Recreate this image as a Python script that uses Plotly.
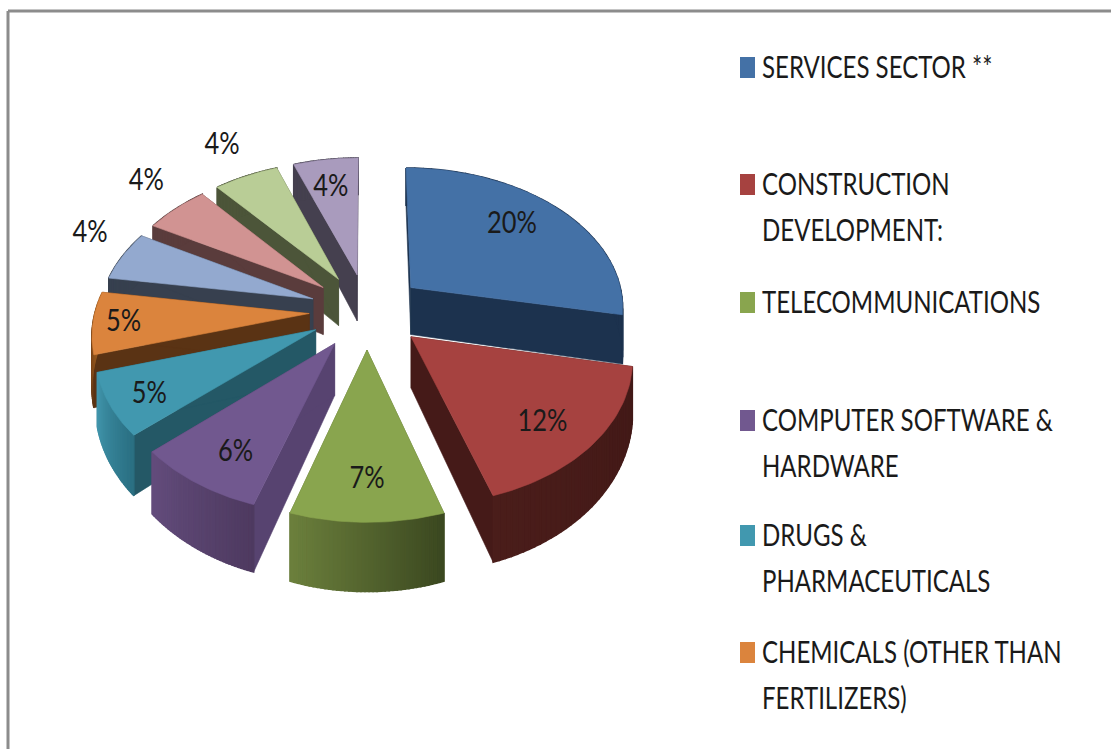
import numpy as np
import plotly.graph_objects as go

# ---- data
sectors = ["SERVICES SECTOR **", "CONSTRUCTION DEVELOPMENT:", "TELECOMMUNICATIONS",
           "COMPUTER SOFTWARE & HARDWARE", "DRUGS & PHARMACEUTICALS",
           "CHEMICALS (OTHER THAN FERTILIZERS)", "SECTOR 7", "SECTOR 8", "SECTOR 9", "SECTOR 10"]
shares = [20, 12, 7, 6, 5, 5, 4, 4, 4, 4]
share_labels = ["20%", "12%", "7%", "6%", "5%", "5%", "4%", "4%", "4%", "4%"]

# ---- styles
top_colors = ["#4471a6", "#a64240", "#89a54e", "#71588f", "#4198af", "#db843d",
              "#93a9cf", "#d19392", "#b9cd96", "#a99bbd"]
side_colors = ["#1c324e", "#451a18", "#5a6e33", "#574370", "#245866", "#5a3314",
               "#37404f", "#5a3c3c", "#4c5539", "#45404f"]
outer_left = ["#1c324e", "#4a1d1a", "#6b7f3c", "#634c7c", "#4195ab", "#a5601f",
              "#37404f", "#5a3c3c", "#4c5539", "#45404f"]
outer_right = ["#1c324e", "#421917", "#3b4820", "#4e3a60", "#2a6f82", "#5a3314",
               "#37404f", "#5a3c3c", "#4c5539", "#45404f"]
label_radius = [0.72, 0.78, 0.78, 0.80, 0.86, 0.85, 1.18, 1.22, 1.28, 0.72]
label_nudge_x = [-7, -8, 0, 9, 9, -2, 0, 0, -1, -3]
label_nudge_y = [-4, 5, 0, 1, 1, 2, -14, -11, -4, -1]

CX, CY, RX, RY, PERSP, EXPLODE, DEPTH = 367, 311, 214, 140, 0.125, 0.27, 49
N = len(shares)
total = sum(shares)
edges = np.concatenate([[0], np.cumsum(shares)]) / total * 2 * np.pi


def project(p, q, drop=0.0):
    s = 1 / (1 - PERSP * q)
    return CX + RX * p * s, CY + RY * q * s + drop * DEPTH * s * s


def mix(c1, c2, t):
    a = [int(c1[i:i + 2], 16) for i in (1, 3, 5)]
    b = [int(c2[i:i + 2], 16) for i in (1, 3, 5)]
    return "#%02x%02x%02x" % tuple(round(x + (y - x) * t) for x, y in zip(a, b))


def poly(fig, xs, ys, color, width=0.6):
    fig.add_trace(go.Scatter(x=list(xs), y=list(ys), mode="lines", fill="toself", fillcolor=color,
                             line=dict(color=color, width=width), hoverinfo="skip", showlegend=False))


fig = go.Figure()
mids = (edges[:-1] + edges[1:]) / 2
order = sorted(range(N), key=lambda i: -np.cos(mids[i]))  # far slices first
for i in order:
    a0, a1, mid = edges[i], edges[i + 1], mids[i]
    ax, aq = EXPLODE * np.sin(mid), -EXPLODE * np.cos(mid)
    th = np.linspace(a0, a1, 40)
    pp = ax + np.sin(th)
    qq = aq - np.cos(th)
    # radial side faces
    for j in (0, -1):
        xa0, ya0 = project(ax, aq)
        xa1, ya1 = project(ax, aq, 1)
        xb0, yb0 = project(pp[j], qq[j])
        xb1, yb1 = project(pp[j], qq[j], 1)
        poly(fig, [xa0, xb0, xb1, xa1, xa0], [ya0, yb0, yb1, ya1, ya0], side_colors[i])
    # outer rim, shaded along the arc
    for j in range(len(th) - 1):
        x0, y0 = project(pp[j], qq[j])
        x1, y1 = project(pp[j + 1], qq[j + 1])
        x2, y2 = project(pp[j + 1], qq[j + 1], 1)
        x3, y3 = project(pp[j], qq[j], 1)
        poly(fig, [x0, x1, x2, x3, x0], [y0, y1, y2, y3, y0],
             mix(outer_right[i], outer_left[i], j / (len(th) - 2)), width=1.5)
    # top face
    xs, ys = project(np.concatenate([[ax], pp, [ax]]), np.concatenate([[aq], qq, [aq]]))
    poly(fig, xs, ys, top_colors[i])

# percentage labels
lx, ly = [], []
for i in range(N):
    r = label_radius[i]
    x, y = project(EXPLODE * np.sin(mids[i]) + r * np.sin(mids[i]),
                   -EXPLODE * np.cos(mids[i]) - r * np.cos(mids[i]))
    lx.append(x + label_nudge_x[i])
    ly.append(y + label_nudge_y[i])
FONT = "Lato, Liberation Sans, sans-serif"
fig.add_trace(go.Scatter(x=lx, y=ly, mode="text", text=share_labels, textposition="middle center",
                         textfont=dict(family=FONT, size=31, color="#1a1a1a"),
                         hoverinfo="skip", showlegend=False))

# legend
legend_lines = ["SERVICES SECTOR **", "CONSTRUCTION", "DEVELOPMENT:", "TELECOMMUNICATIONS",
                "COMPUTER SOFTWARE &", "HARDWARE", "DRUGS &", "PHARMACEUTICALS",
                "CHEMICALS (OTHER THAN", "FERTILIZERS)"]
legend_line_y = [70, 187, 233, 305, 423, 469, 538, 584, 655, 701]
legend_swatch_y = [67, 184, 302, 420, 535, 652]
fig.add_trace(go.Scatter(x=[762] * len(legend_lines), y=legend_line_y, mode="text", text=legend_lines,
                         textposition="middle right",
                         textfont=dict(family=FONT, size=31, color="#1a1a1a"),
                         hoverinfo="skip", showlegend=False))
shapes = []
for c, y in zip(top_colors, legend_swatch_y):
    shapes.append(dict(type="rect", x0=740, x1=755, y0=y - 10, y1=y + 11,
                       fillcolor=c, line=dict(width=0), layer="above"))
# chart frame
shapes.append(dict(type="line", x0=8, x1=1111, y0=11, y1=11, line=dict(color="#8c8c8c", width=3)))
shapes.append(dict(type="line", x0=8, x1=8, y0=11, y1=749, line=dict(color="#8c8c8c", width=3)))

fig.update_layout(
    width=1111, height=749, margin=dict(l=0, r=0, t=0, b=0),
    paper_bgcolor="white", plot_bgcolor="white", showlegend=False, shapes=shapes,
    xaxis=dict(range=[0, 1111], visible=False, fixedrange=True),
    yaxis=dict(range=[749, 0], visible=False, fixedrange=True),
)
# page without its default margin; condense the glyphs like the reference's narrow type
post = """
document.body.style.margin = '0';
document.documentElement.style.overflow = 'hidden';
document.querySelectorAll('.textpoint text').forEach(function (t) {
  var isLegend = t.getAttribute('text-anchor') === 'start';
  t.setAttribute('textLength', t.getComputedTextLength() * (isLegend ? 0.775 : 0.82));
  t.setAttribute('lengthAdjust', 'spacingAndGlyphs');
});
"""
fig.write_html("out.html", config={"displayModeBar": False}, post_script=post)
